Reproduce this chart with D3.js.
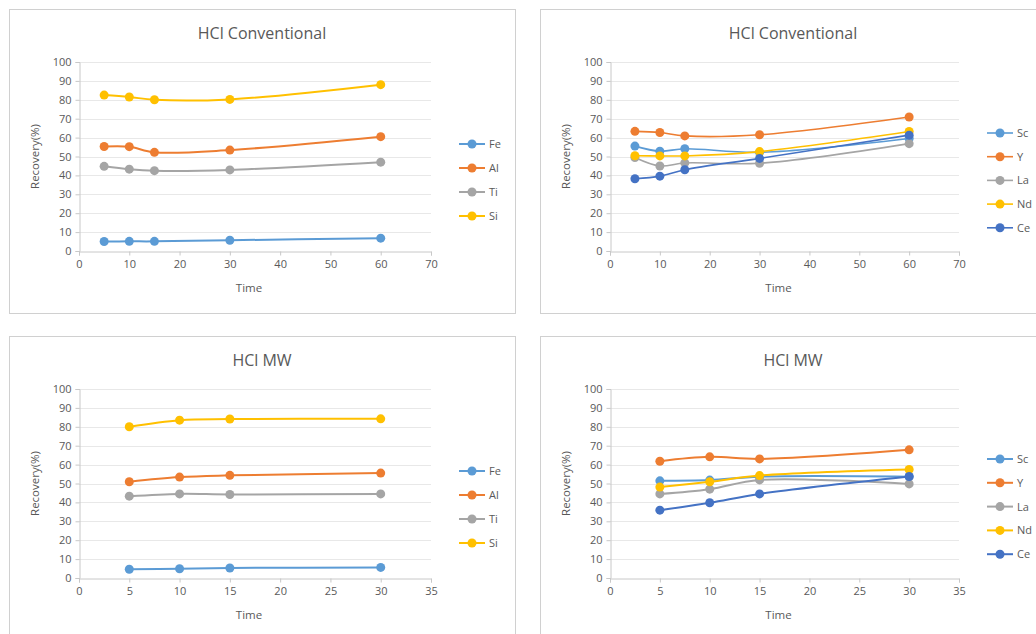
<!DOCTYPE html>
<html>
<head>
<meta charset="utf-8">
<script src="https://cdn.jsdelivr.net/npm/d3@7"></script>
<style>
  html, body { margin: 0; padding: 0; background: #ffffff; }
  svg { display: block; font-family: "Open Sans", Lato, sans-serif; }
</style>
</head>
<body>
<svg id="chart" width="1036" height="634"></svg>
<script>
// Leaching times (min)
const timesConv = [5, 10, 15, 30, 60];
const timesMW = [5, 10, 15, 30];

// Major elements, conventional HCl leaching (recovery %)
const convFe = [5.0, 5.1, 5.1, 5.7, 6.8];
const convAl = [55.3, 55.2, 52.2, 53.4, 60.5];
const convTi = [44.8, 43.3, 42.5, 42.9, 47.0];
const convSi = [82.5, 81.5, 80.0, 80.2, 88.0];

// Rare earths, conventional HCl leaching (recovery %)
const convSc = [55.5, 52.8, 54.1, 52.2, 59.5];
const convY = [63.3, 62.7, 60.9, 61.5, 70.9];
const convLa = [49.5, 45.0, 46.6, 46.4, 56.8];
const convNd = [50.4, 50.3, 50.3, 52.6, 63.2];
const convCe = [38.2, 39.6, 43.0, 49.0, 61.3];

// Major elements, microwave HCl leaching (recovery %)
const mwFe = [4.6, 4.9, 5.3, 5.6];
const mwAl = [50.9, 53.4, 54.3, 55.5];
const mwTi = [43.3, 44.5, 44.2, 44.5];
const mwSi = [80.0, 83.5, 84.1, 84.2];

// Rare earths, microwave HCl leaching (recovery %)
const mwSc = [51.4, 51.8, 53.6, 53.6];
const mwY = [61.8, 64.1, 63.0, 67.8];
const mwLa = [44.5, 47.0, 51.9, 49.8];
const mwNd = [48.1, 50.9, 54.2, 57.4];
const mwCe = [35.9, 39.8, 44.5, 53.7];

const yTicks = [0, 10, 20, 30, 40, 50, 60, 70, 80, 90, 100];
const xTicksConv = [0, 10, 20, 30, 40, 50, 60, 70];
const xTicksMW = [0, 5, 10, 15, 20, 25, 30, 35];

const colors = {
  Fe: "#5B9BD5", Al: "#ED7D31", Ti: "#A5A5A5", Si: "#FFC000",
  Sc: "#5B9BD5", Y: "#ED7D31", La: "#A5A5A5", Nd: "#FFC000", Ce: "#4472C4"
};

const svg = d3.select("#chart");
const textColor = "#595959";

function panel(cfg) {
  const g = svg.append("g");
  // chart frame
  g.append("rect")
    .attr("x", cfg.frame[0] + 0.5).attr("y", cfg.frame[1] + 0.5)
    .attr("width", cfg.frame[2]).attr("height", cfg.frame[3])
    .attr("fill", "#ffffff").attr("stroke", "#d0d0d0").attr("stroke-width", 1);

  const x = d3.scaleLinear().domain([0, cfg.xMax]).range([cfg.plot[0], cfg.plot[1]]);
  const y = d3.scaleLinear().domain([0, 100]).range([cfg.plot[3], cfg.plot[2]]);

  // gridlines
  g.append("g").selectAll("line").data(yTicks.filter(d => d > 0)).join("line")
    .attr("x1", x(0)).attr("x2", x(cfg.xMax))
    .attr("y1", d => Math.round(y(d)) + 0.5).attr("y2", d => Math.round(y(d)) + 0.5)
    .attr("stroke", "#e8e8e8").attr("stroke-width", 1);

  // axes
  const yAxis = d3.axisLeft(y).tickValues(yTicks).tickSize(4).tickPadding(4);
  const xAxis = d3.axisBottom(x).tickValues(cfg.xTicks).tickSize(4).tickPadding(5);
  const ya = g.append("g").attr("transform", `translate(${Math.round(x(0)) + 0.5},0)`).call(yAxis);
  const xa = g.append("g").attr("transform", `translate(0,${Math.round(y(0)) + 0.5})`).call(xAxis);
  [ya, xa].forEach(a => {
    a.select(".domain").attr("stroke", "#c8c8c8");
    a.selectAll(".tick line").attr("stroke", "#c8c8c8");
    a.selectAll(".tick text").attr("fill", textColor).style("font-size", "11px")
      .style("font-family", "'Open Sans', sans-serif");
  });

  // titles
  g.append("text").attr("x", cfg.titleX).attr("y", cfg.titleY)
    .attr("text-anchor", "middle").attr("fill", textColor)
    .style("font-size", "16px").text(cfg.title);
  g.append("text").attr("x", (x(0) + x(cfg.xMax)) / 2 - 6).attr("y", y(0) + 41)
    .attr("text-anchor", "middle").attr("fill", textColor)
    .style("font-size", "11.5px").text("Time");
  g.append("text")
    .attr("transform", `translate(${x(0) - 40},${(y(0) + y(100)) / 2}) rotate(-90)`)
    .attr("text-anchor", "middle").attr("fill", textColor)
    .style("font-size", "11.5px").text("Recovery(%)");

  const line = d3.line().x(d => x(d[0])).y(d => y(d[1])).curve(d3.curveCatmullRom.alpha(0.5));

  cfg.series.forEach(s => {
    const pts = cfg.times.map((t, i) => [t, s.values[i]]);
    g.append("path").datum(pts).attr("d", line)
      .attr("fill", "none").attr("stroke", colors[s.name])
      .attr("stroke-width", cfg.lineW);
    g.append("g").selectAll("circle").data(pts).join("circle")
      .attr("cx", d => x(d[0])).attr("cy", d => y(d[1])).attr("r", 4.5)
      .attr("fill", colors[s.name]);
  });

  // legend
  cfg.series.forEach((s, i) => {
    const ly = cfg.legend[1] + i * cfg.legend[2];
    const lx = cfg.legend[0];
    g.append("line").attr("x1", lx).attr("x2", lx + 26).attr("y1", ly).attr("y2", ly)
      .attr("stroke", colors[s.name]).attr("stroke-width", cfg.lineW);
    g.append("circle").attr("cx", lx + 13).attr("cy", ly).attr("r", 4.5).attr("fill", colors[s.name]);
    g.append("text").attr("x", lx + 30).attr("y", ly + 4).attr("fill", textColor)
      .style("font-size", "11px").text(s.name);
  });
}

panel({
  frame: [9, 9, 506, 304], plot: [79, 431, 62, 251], xMax: 70, xTicks: xTicksConv,
  title: "HCl Conventional", titleX: 262, titleY: 39, times: timesConv, lineW: 2,
  legend: [459, 144, 24],
  series: [
    { name: "Fe", values: convFe }, { name: "Al", values: convAl },
    { name: "Ti", values: convTi }, { name: "Si", values: convSi }
  ]
});

panel({
  frame: [540, 9, 520, 304], plot: [610, 959, 62, 251], xMax: 70, xTicks: xTicksConv,
  title: "HCl Conventional", titleX: 793, titleY: 39, times: timesConv, lineW: 1.6,
  legend: [987, 133, 23.7],
  series: [
    { name: "Sc", values: convSc }, { name: "Y", values: convY },
    { name: "La", values: convLa }, { name: "Nd", values: convNd },
    { name: "Ce", values: convCe }
  ]
});

panel({
  frame: [9, 336, 506, 320], plot: [79, 431, 389, 578], xMax: 35, xTicks: xTicksMW,
  title: "HCl MW", titleX: 262, titleY: 366, times: timesMW, lineW: 2,
  legend: [459, 471, 24],
  series: [
    { name: "Fe", values: mwFe }, { name: "Al", values: mwAl },
    { name: "Ti", values: mwTi }, { name: "Si", values: mwSi }
  ]
});

panel({
  frame: [540, 336, 520, 320], plot: [610, 959, 389, 578], xMax: 35, xTicks: xTicksMW,
  title: "HCl MW", titleX: 793, titleY: 366, times: timesMW, lineW: 2,
  legend: [987, 459, 23.8],
  series: [
    { name: "Sc", values: mwSc }, { name: "Y", values: mwY },
    { name: "La", values: mwLa }, { name: "Nd", values: mwNd },
    { name: "Ce", values: mwCe }
  ]
});
</script>
</body>
</html>
